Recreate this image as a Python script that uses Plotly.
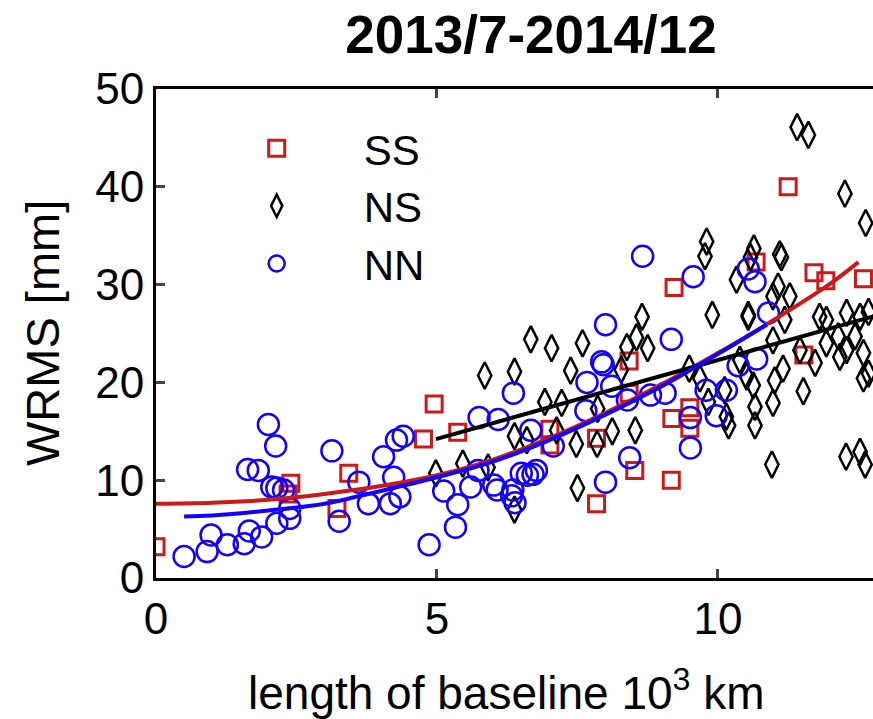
import plotly.graph_objects as go

# ---------------- data ----------------
ss_x = [0.00, 2.40, 2.35, 3.22, 3.43, 4.76, 4.95, 5.37, 7.01, 7.01, 7.84, 7.84, 8.42, 8.42,
        8.52, 9.17, 9.18, 9.50, 9.50, 9.22, 10.68, 11.25, 11.53, 11.71, 11.92, 12.59]
ss_y = [3.2, 9.7, 8.6, 7.1, 10.7, 14.2, 17.8, 14.9, 15.2, 13.6, 7.6, 14.3, 22.2, 18.9,
        11.0, 10.0, 16.3, 17.4, 15.3, 29.7, 32.3, 40.0, 22.8, 31.2, 30.4, 30.6]

ns_x = [4.98, 5.46, 5.91, 5.85, 6.38, 6.38, 6.38, 6.60, 6.67, 7.04, 6.92, 7.22, 7.38, 7.59,
        7.50, 7.48, 7.85, 7.86, 8.12, 8.28, 8.38, 8.55, 8.75, 8.65, 8.53, 9.49, 9.68, 9.83,
        10.12, 10.15, 10.19, 9.80, 9.77, 10.33, 9.90, 10.54, 10.39, 11.41, 11.61, 12.26, 12.63,
        10.64, 10.58, 11.10, 11.13, 11.07, 11.28, 10.98, 11.19, 11.81, 11.93, 12.29, 12.53,
        12.68, 10.98, 11.46, 11.73, 11.93, 12.14, 12.29, 12.17, 12.44, 12.59, 12.68, 12.59,
        10.51, 10.63, 11.01, 11.16, 10.98, 11.52, 10.66, 10.66, 10.96, 12.28, 12.53, 12.62,
        7.13, 10.54]
ns_y = [10.7, 11.7, 11.3, 20.7, 21.1, 7.0, 14.5, 14.1, 24.4, 23.5, 18.0, 17.9, 21.2, 24.0,
        9.2, 13.7, 13.7, 17.3, 15.0, 21.3, 23.6, 24.6, 23.5, 26.7, 15.1, 21.4, 20.4, 18.0,
        19.2, 16.5, 15.6, 34.4, 32.9, 30.5, 26.9, 26.9, 22.3, 46.1, 45.3, 39.3, 36.3,
        33.7, 32.8, 33.1, 32.8, 29.8, 28.8, 28.8, 26.4, 26.7, 26.4, 27.1, 26.7,
        27.2, 24.3, 23.3, 22.0, 24.0, 24.7, 23.3, 22.6, 24.7, 23.0, 20.9, 20.4,
        20.6, 19.7, 20.2, 21.4, 17.9, 19.1, 17.5, 15.6, 11.6, 12.4, 12.9, 11.6,
        15.1, 26.7]

nn_x = [0.50, 0.91, 0.98, 1.27, 1.57, 1.66, 1.88, 2.15, 2.38, 2.38, 2.00, 2.13, 1.63, 1.82,
        2.06, 2.15, 2.27, 3.13, 3.26, 3.61, 3.78, 4.17, 4.34, 4.23, 4.05, 4.28, 4.40, 4.86,
        5.12, 5.37, 5.33, 5.60, 5.75, 5.73, 6.09, 6.01, 6.07, 6.36, 6.35, 6.33, 6.39, 6.50,
        6.61, 6.71, 6.77, 6.67, 7.07, 7.65, 7.67, 7.93, 7.96, 8.00, 8.11, 8.00, 8.43, 8.39,
        8.80, 9.06, 9.17, 9.51, 9.51, 9.56, 10.54, 10.66, 10.90, 8.66, 9.79, 10.15, 9.97,
        10.36, 10.69]
nn_y = [2.2, 2.7, 4.4, 3.4, 3.5, 4.8, 4.2, 5.6, 6.1, 7.1, 15.7, 13.5, 11.1, 11.0,
        9.3, 9.2, 9.0, 13.0, 5.8, 9.8, 7.6, 7.6, 8.3, 10.3, 12.4, 14.1, 14.5, 3.4,
        8.9, 7.5, 5.2, 9.3, 16.4, 11.0, 16.2, 9.5, 9.0, 18.9, 9.0, 8.4, 7.7, 10.7,
        10.5, 10.6, 11.0, 15.1, 13.5, 17.1, 20.0, 22.1, 21.8, 25.9, 19.6, 9.8, 12.3, 18.2,
        18.7, 18.9, 24.4, 16.4, 13.3, 30.8, 31.6, 30.3, 27.1, 32.9, 19.2, 19.2, 16.6,
        21.7, 22.4]

# fitted curves
ss_fit_x = [0, 1, 2, 3, 4, 5, 6, 7, 8, 9, 10, 11, 12, 12.5]
ss_fit_y = [7.6, 7.7, 8.0, 8.6, 9.4, 10.5, 12.1, 14.3, 16.9, 19.8, 23.0, 26.4, 30.1, 32.3]
ns_fit_x = [4.98, 12.8]
ns_fit_y = [14.2, 26.8]
nn_fit_x = [0.5, 1, 2, 3, 4, 5, 6, 7, 8, 9, 10, 10.87]
nn_fit_y = [6.3, 6.4, 6.9, 7.6, 8.9, 10.3, 11.9, 14.1, 16.7, 19.6, 22.9, 25.9]

title_text = "2013/7-2014/12"
x_title = "length of baseline 10<sup>3</sup> km"
y_title = "WRMS [mm]"
x_ticks = [0, 5, 10]
y_ticks = [0, 10, 20, 30, 40, 50]

RED = "#CC1A1A"
BLUE = "#1400FF"
BLACK = "#000000"
FONT = "Liberation Sans, Arial, sans-serif"

fig = go.Figure()
fig.add_trace(go.Scatter(x=ss_x, y=ss_y, mode="markers", name="SS", legendgroup="a",
                         marker=dict(symbol="square-open", size=16, color=RED,
                                     line=dict(width=3, color=RED))))
fig.add_trace(go.Scatter(x=ns_x, y=ns_y, mode="markers", name="NS", legendgroup="b",
                         marker=dict(symbol="diamond-tall-open", size=19, color=BLACK,
                                     line=dict(width=2.5, color=BLACK))))
fig.add_trace(go.Scatter(x=nn_x, y=nn_y, mode="markers", name="NN", legendgroup="c",
                         marker=dict(symbol="circle-open", size=21, color=BLUE,
                                     line=dict(width=2.5, color=BLUE))))
fig.add_trace(go.Scatter(x=ss_fit_x, y=ss_fit_y, mode="lines", showlegend=False,
                         line=dict(color=RED, width=4, shape="spline")))
fig.add_trace(go.Scatter(x=ns_fit_x, y=ns_fit_y, mode="lines", showlegend=False,
                         line=dict(color=BLACK, width=4)))
fig.add_trace(go.Scatter(x=nn_fit_x, y=nn_fit_y, mode="lines", showlegend=False,
                         line=dict(color=BLUE, width=4, shape="spline")))

fig.update_layout(
    width=873, height=719,
    margin=dict(l=156, r=0, t=89, b=141, autoexpand=False),
    paper_bgcolor="white", plot_bgcolor="white",
    font=dict(family=FONT, size=44, color="black"),
    showlegend=True,
    legend=dict(x=0.047, y=0.948, xanchor="left", yanchor="top",
                bgcolor="rgba(0,0,0,0)", font=dict(size=42),
                tracegroupgap=0, traceorder="grouped", itemwidth=164),
    title=dict(text="<b>" + title_text + "</b>", x=0.523, xref="paper", y=1 - 34 / 719,
               yanchor="middle", xanchor="center", font=dict(size=53, family=FONT)),
    xaxis=dict(range=[0, 12.76], tickvals=x_ticks, ticks="inside", ticklen=9, tickwidth=2.5,
               showline=True, linewidth=3, linecolor="black", mirror="ticks",
               showgrid=False, zeroline=False, tickfont=dict(size=44),
               automargin=False),
    yaxis=dict(range=[0, 50], tickvals=y_ticks, ticks="inside", ticklen=9, tickwidth=2.5,
               showline=True, linewidth=3, linecolor="black", mirror=False,
               showgrid=False, zeroline=False, tickfont=dict(size=44),
               automargin=False),
    annotations=[
        dict(text=x_title, xref="paper", yref="paper", x=(506 - 156) / 717, y=-(690 - 578) / 489,
             xanchor="center", yanchor="middle", showarrow=False, font=dict(size=46)),
        dict(text=y_title, xref="paper", yref="paper", x=-(156 - 42) / 717, y=(578 - 333) / 489,
             xanchor="center", yanchor="middle", textangle=-90, showarrow=False,
             font=dict(size=47)),
    ],
)

fig.write_html("out.html", config={"displayModeBar": False},
               post_script="document.body.style.margin='0px';")
